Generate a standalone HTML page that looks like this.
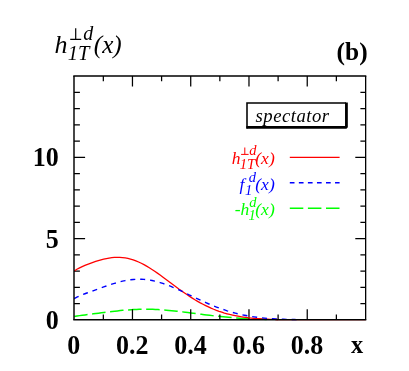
<!DOCTYPE html>
<html><head><meta charset="utf-8"><title>chart</title><style>
html,body{margin:0;padding:0;background:#fff;}
svg{display:block;will-change:transform}
text{font-family:"Liberation Serif",serif;}
.b{font-weight:bold;font-size:26px;fill:#000}
.i{font-style:italic}
</style></head><body>
<svg width="409" height="371" viewBox="0 0 409 371">
<rect width="409" height="371" fill="#fff"/>
<path d="M74.2,316.48 L76.9,316.04 L79.6,315.63 L82.3,315.25 L85.0,314.89 L87.7,314.54 L90.4,314.20 L93.2,313.86 L95.9,313.51 L98.6,313.17 L101.3,312.83 L104.0,312.48 L106.7,312.15 L109.4,311.81 L112.1,311.49 L114.8,311.18 L117.5,310.88 L120.2,310.60 L122.9,310.34 L125.6,310.10 L128.4,309.89 L131.1,309.71 L133.8,309.55 L136.5,309.43 L139.2,309.34 L141.9,309.28 L144.6,309.25 L147.3,309.26 L150.0,309.30 L152.7,309.37 L155.4,309.47 L158.1,309.60 L160.9,309.76 L163.6,309.95 L166.3,310.16 L169.0,310.40 L171.7,310.66 L174.4,310.94 L177.1,311.23 L179.8,311.54 L182.5,311.87 L185.2,312.20 L187.9,312.54 L190.6,312.89 L193.3,313.24 L196.1,313.59 L198.8,313.94 L201.5,314.29 L204.2,314.64 L206.9,314.98 L209.6,315.31 L212.3,315.63 L215.0,315.95 L217.7,316.25 L220.4,316.54 L223.1,316.82 L225.8,317.09 L228.5,317.34 L231.3,317.57 L234.0,317.80 L236.7,318.01 L239.4,318.20 L242.1,318.38 L244.8,318.54 L247.5,318.70 L250.2,318.83 L252.9,318.96 L255.6,319.07 L258.3,319.17 L261.0,319.26 L263.8,319.34 L266.5,319.41" fill="none" stroke="#00ff00" stroke-width="1.5" stroke-dasharray="13.5,4.6"/>
<path d="M103.33,319.75v-5.3M103.33,75.95v5.3M132.46,319.75v-10.5M132.46,75.95v10.5M161.59,319.75v-5.3M161.59,75.95v5.3M190.72,319.75v-10.5M190.72,75.95v10.5M219.85,319.75v-5.3M219.85,75.95v5.3M248.98,319.75v-10.5M248.98,75.95v10.5M278.11,319.75v-5.3M278.11,75.95v5.3M307.24,319.75v-10.5M307.24,75.95v10.5M336.37,319.75v-5.3M336.37,75.95v5.3M74.0,303.56H79.90M365.65,303.56H360.40M74.0,287.31H79.90M365.65,287.31H360.40M74.0,271.07H79.90M365.65,271.07H360.40M74.0,254.83H79.90M365.65,254.83H360.40M74.0,238.58H85.10M365.65,238.58H355.30M74.0,222.34H79.90M365.65,222.34H360.40M74.0,206.10H79.90M365.65,206.10H360.40M74.0,189.85H79.90M365.65,189.85H360.40M74.0,173.61H79.90M365.65,173.61H360.40M74.0,157.37H85.10M365.65,157.37H355.30M74.0,141.12H79.90M365.65,141.12H360.40M74.0,124.88H79.90M365.65,124.88H360.40M74.0,108.64H79.90M365.65,108.64H360.40M74.0,92.39H79.90M365.65,92.39H360.40" stroke="#000" stroke-width="1.25" fill="none"/>
<path d="M275.2,319.75H365.65" fill="none" stroke="#ff0000" stroke-width="1"/>
<path d="M74.2,270.97 L76.9,269.30 L79.6,267.87 L82.2,266.59 L84.9,265.43 L87.6,264.34 L90.3,263.32 L93.0,262.36 L95.7,261.45 L98.3,260.60 L101.0,259.82 L103.7,259.12 L106.4,258.52 L109.1,258.02 L111.8,257.64 L114.4,257.40 L117.1,257.29 L119.8,257.33 L122.5,257.53 L125.2,257.88 L127.9,258.40 L130.5,259.07 L133.2,259.89 L135.9,260.87 L138.6,261.99 L141.3,263.25 L144.0,264.64 L146.6,266.14 L149.3,267.75 L152.0,269.46 L154.7,271.24 L157.4,273.10 L160.1,275.01 L162.7,276.96 L165.4,278.94 L168.1,280.95 L170.8,282.96 L173.5,284.96 L176.2,286.95 L178.8,288.92 L181.5,290.85 L184.2,292.74 L186.9,294.58 L189.6,296.37 L192.3,298.09 L194.9,299.75 L197.6,301.33 L200.3,302.85 L203.0,304.28 L205.7,305.64 L208.4,306.93 L211.0,308.13 L213.7,309.26 L216.4,310.31 L219.1,311.28 L221.8,312.18 L224.4,313.01 L227.1,313.77 L229.8,314.47 L232.5,315.10 L235.2,315.68 L237.9,316.20 L240.5,316.66 L243.2,317.08 L245.9,317.45 L248.6,317.78 L251.3,318.07 L254.0,318.32 L256.6,318.55 L259.3,318.74 L262.0,318.91 L264.7,319.05 L267.4,319.18 L270.1,319.28 L272.7,319.37 L275.4,319.44 L278.1,319.50" fill="none" stroke="#ff0000" stroke-width="1.3"/>
<path d="M74.2,298.67 L76.9,297.21 L79.6,295.93 L82.3,294.79 L84.9,293.74 L87.6,292.74 L90.3,291.76 L93.0,290.80 L95.7,289.83 L98.4,288.87 L101.0,287.91 L103.7,286.96 L106.4,286.02 L109.1,285.10 L111.8,284.21 L114.5,283.36 L117.2,282.57 L119.8,281.84 L122.5,281.19 L125.2,280.61 L127.9,280.13 L130.6,279.74 L133.3,279.46 L136.0,279.28 L138.6,279.22 L141.3,279.26 L144.0,279.42 L146.7,279.68 L149.4,280.06 L152.1,280.54 L154.7,281.12 L157.4,281.80 L160.1,282.57 L162.8,283.43 L165.5,284.36 L168.2,285.37 L170.9,286.43 L173.5,287.56 L176.2,288.73 L178.9,289.93 L181.6,291.18 L184.3,292.44 L187.0,293.72 L189.6,295.01 L192.3,296.30 L195.0,297.59 L197.7,298.87 L200.4,300.12 L203.1,301.36 L205.8,302.57 L208.4,303.74 L211.1,304.88 L213.8,305.98 L216.5,307.04 L219.2,308.06 L221.9,309.02 L224.6,309.94 L227.2,310.82 L229.9,311.64 L232.6,312.41 L235.3,313.13 L238.0,313.81 L240.7,314.43 L243.3,315.01 L246.0,315.54 L248.7,316.03 L251.4,316.48 L254.1,316.88 L256.8,317.25 L259.5,317.58 L262.1,317.88 L264.8,318.14 L267.5,318.37 L270.2,318.58 L272.9,318.76 L275.6,318.92 L278.3,319.06 L280.9,319.18 L283.6,319.28 L286.3,319.37 L289.0,319.44 L291.7,319.50 L294.4,319.55 L297.0,319.60" fill="none" stroke="#0000ff" stroke-width="1.4" stroke-dasharray="5,4.9"/>
<path d="M73.28,75.95H366.29999999999995" stroke="#000" stroke-width="1.45" fill="none"/><path d="M73.28,319.75H366.29999999999995" stroke="#000" stroke-width="1.4" fill="none"/><path d="M365.65,75.95V319.75" stroke="#000" stroke-width="1.3" fill="none"/><path d="M74.0,75.95V319.75" stroke="#000" stroke-width="1.45" fill="none"/>
<!-- y labels -->
<text class="b" transform="translate(58.7,166.2) scale(1,1.055)" text-anchor="end">10</text>
<text class="b" transform="translate(58.7,247.5) scale(1,1.055)" text-anchor="end">5</text>
<text class="b" transform="translate(58.7,328.8) scale(1,1.055)" text-anchor="end">0</text>
<!-- x labels -->
<text class="b" transform="translate(73.8,354.45) scale(1,1.085)" text-anchor="middle">0</text>
<text class="b" transform="translate(132.3,354.45) scale(1,1.085)" text-anchor="middle">0.2</text>
<text class="b" transform="translate(190.6,354.45) scale(1,1.085)" text-anchor="middle">0.4</text>
<text class="b" transform="translate(248.8,354.45) scale(1,1.085)" text-anchor="middle">0.6</text>
<text class="b" transform="translate(307.0,354.45) scale(1,1.085)" text-anchor="middle">0.8</text>
<text class="b" transform="translate(357.0,353.3) scale(1,1.03)" style="font-size:24.4px" text-anchor="middle">x</text>
<text class="b" transform="translate(367.6,60.05) scale(1,1.0)" style="font-size:25.4px" text-anchor="end">(b)</text>
<!-- title -->
<g class="i" fill="#000">
<text x="54.5" y="52.7" font-size="26">h</text>
<path d="M70.2,39.4H81.2M75.7,39.4V28.3" stroke="#000" stroke-width="1.2" fill="none"/>
<text x="83.3" y="39.5" font-size="20">d</text>
<text x="67.7" y="60" font-size="20.5">1T</text>
<text x="93.8" y="52.5" font-size="25.2">(x)</text>
</g>
<!-- legend box -->
<rect x="247" y="103" width="99.4" height="24.3" fill="#fff"/>
<path d="M246.2,103H346M247,102.3V128.6" stroke="#000" stroke-width="1.55" fill="none"/>
<path d="M346.43,102.5V127.35H246.4" stroke="#000" stroke-width="2.8" fill="none" stroke-linejoin="bevel"/>
<text class="i" x="255.6" y="121.6" font-size="18.7" letter-spacing="0.5">spectator</text>
<!-- legend lines -->
<path d="M289.8,157.33H339.6" stroke="#ff0000" stroke-width="1.35"/>
<path d="M289.8,182.8H339.6" stroke="#0000ff" stroke-width="1.5" stroke-dasharray="4.7,4.35"/>
<path d="M289.8,208.3H339.6" stroke="#00ff00" stroke-width="1.5" stroke-dasharray="13.5,4.6"/>
<!-- legend text -->
<g class="i" fill="#ff0000">
<text x="231.7" y="163.8" font-size="17.5">h</text>
<path d="M241.1,154.4H248.6M244.8,154.4V147.5" stroke="#ff0000" stroke-width="1" fill="none"/>
<text x="249.3" y="154.7" font-size="14.5">d</text>
<text x="239.7" y="168.7" font-size="14.5">1T</text>
<text x="255.3" y="163.8" font-size="17.5">(x)</text>
</g>
<g class="i" fill="#0000ff">
<text x="239.5" y="189.8" font-size="17.5">f</text>
<text x="248.8" y="182.2" font-size="14.5">d</text>
<text x="245" y="195.1" font-size="14.5">1</text>
<text x="255.3" y="189.8" font-size="17.5">(x)</text>
</g>
<g class="i" fill="#00ff00">
<text x="234.7" y="215.3" font-size="17.5">-h</text>
<text x="249.3" y="206.9" font-size="14.5">d</text>
<text x="248.5" y="220.3" font-size="14.5">1</text>
<text x="255.3" y="215.3" font-size="17.5">(x)</text>
</g>
</svg>
</body></html>
